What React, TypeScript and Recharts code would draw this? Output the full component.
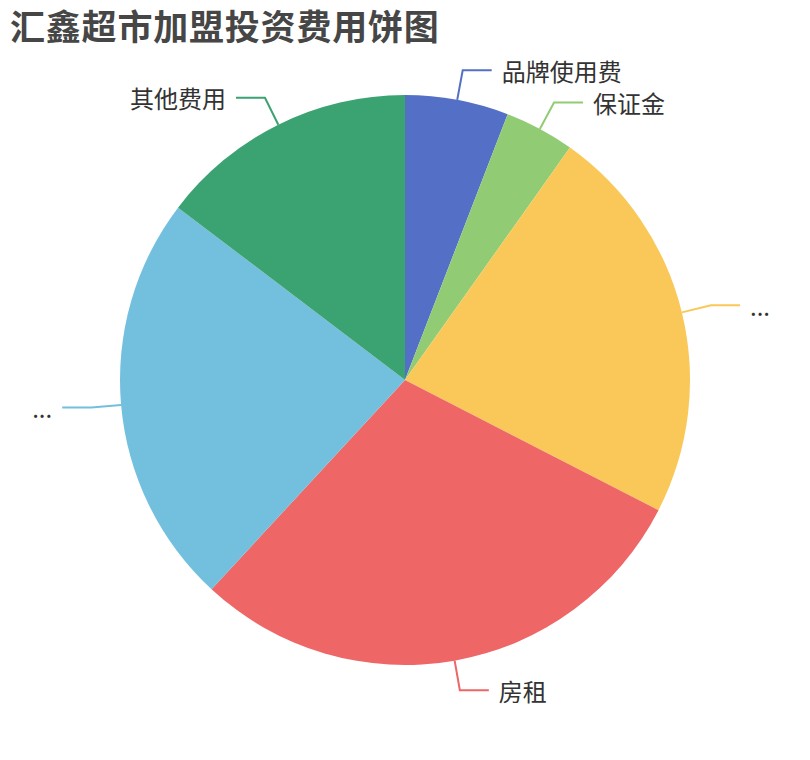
import React from 'react';
import { PieChart, Pie, Cell } from 'recharts';

// slices clockwise from 12 o'clock
const names = ['品牌使用费', '保证金', '...', '房租', '...', '其他费用'];
const values = [4, 2.7, 15.5, 20, 16, 10];
const colors = ['#5470c6', '#91cc75', '#fac858', '#ee6666', '#73c0de', '#3ba272'];

const data = names.map((name, i) => ({ key: `s${i}`, name, value: values[i] }));

const RADIAN = Math.PI / 180;
const FONT = '"Noto Sans CJK SC", "Noto Sans", sans-serif';

const renderLabel = (props: any) => {
  const { cx, cy, midAngle, outerRadius, index } = props;
  const cos = Math.cos(-midAngle * RADIAN);
  const sin = Math.sin(-midAngle * RADIAN);
  const sx = cx + outerRadius * cos;
  const sy = cy + outerRadius * sin;
  const mx = cx + (outerRadius + 30) * cos;
  const my = cy + (outerRadius + 30) * sin;
  const right = cos >= 0;
  const ex = mx + (right ? 29 : -29);
  const tx = ex + (right ? 10 : -10);
  return (
    <g key={`lbl${index}`}>
      <path
        d={`M${sx},${sy}L${mx},${my}L${ex},${my}`}
        stroke={colors[index]}
        strokeWidth={2}
        fill="none"
      />
      <text
        x={tx}
        y={my}
        textAnchor={right ? 'start' : 'end'}
        dominantBaseline="central"
        fill="#333"
        fontSize={24}
        fontFamily={FONT}
      >
        {names[index]}
      </text>
    </g>
  );
};

export default function App() {
  return (
    <div style={{ position: 'absolute', left: 0, top: 0, width: 810, height: 760, background: '#fff' }}>
      <div
        style={{
          position: 'absolute',
          left: 10,
          top: 2,
          fontSize: 35,
          fontWeight: 'bold',
          color: '#464646',
          fontFamily: FONT,
          lineHeight: '46px',
          letterSpacing: 0.8,
        }}
      >
        汇鑫超市加盟投资费用饼图
      </div>
      <PieChart width={810} height={760} margin={{ top: 0, right: 0, bottom: 0, left: 0 }}>
        <Pie
          data={data}
          dataKey="value"
          nameKey="key"
          cx={405}
          cy={380}
          outerRadius={285}
          startAngle={90}
          endAngle={-270}
          stroke="none"
          label={renderLabel}
          labelLine={false}
          isAnimationActive={false}
        >
          {data.map((d, i) => (
            <Cell key={d.key} fill={colors[i]} />
          ))}
        </Pie>
      </PieChart>
    </div>
  );
}
